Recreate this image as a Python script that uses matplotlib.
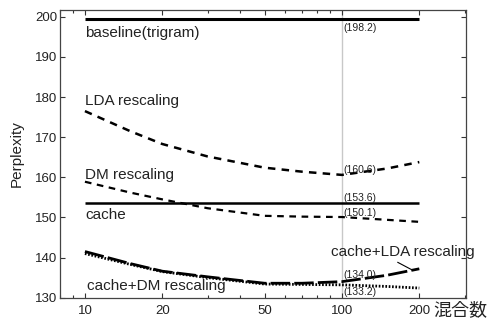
import numpy as np
import matplotlib
matplotlib.use('Agg')
import matplotlib.pyplot as plt

plt.rcParams['font.family'] = ['Liberation Sans', 'Noto Sans CJK JP', 'DejaVu Sans']

# mixture counts (x) and perplexity values
mix = [10, 15, 20, 30, 50, 70, 100, 150, 200]
baseline = [199.4] * len(mix)
cache = [153.6] * len(mix)
lda_rescaling = [176.5, 171.5, 168.3, 165.2, 162.4, 161.4, 160.6, 162.2, 163.8]
dm_rescaling = [158.9, 156.2, 154.5, 152.3, 150.4, 150.2, 150.1, 149.4, 148.9]
cache_lda = [141.5, 138.5, 136.6, 135.2, 133.6, 133.6, 134.0, 135.6, 137.2]
cache_dm = [141.0, 138.3, 136.5, 135.0, 133.4, 133.3, 133.2, 132.8, 132.4]

fig = plt.figure(figsize=(4.88, 3.22), dpi=100)
ax = fig.add_axes([0.123, 0.0755, 0.832, 0.8935])

ax.axvline(100, color='#c8c8c8', lw=1.0, zorder=1)

ax.plot(mix, baseline, color='black', lw=2.2, solid_capstyle='butt')
ax.plot(mix, cache, color='black', lw=1.8, solid_capstyle='butt')
ax.plot(mix, lda_rescaling, color='black', lw=1.8, dashes=(3, 2.5))
ax.plot(mix, dm_rescaling, color='black', lw=1.6, dashes=(3, 2.5))
ax.plot(mix, cache_lda, color='black', lw=2.0, dashes=(7, 1.5))
ax.plot(mix, cache_dm, color='black', lw=2.0, dashes=(0.6, 0.6))

ax.set_xscale('log')
ax.set_xlim(8.0, 304)
ax.set_ylim(130, 201.7)
ax.set_xticks([10, 20, 50, 100, 200])
ax.set_xticklabels(['10', '20', '50', '100', '200'])
ax.set_yticks([130, 140, 150, 160, 170, 180, 190, 200])
ax.tick_params(axis='both', which='both', direction='in', top=True, bottom=True,
               left=True, right=True, labelsize=9.5, labelcolor='#222222',
               color='#333333', width=0.8)
ax.tick_params(axis='both', which='major', length=3.5)
ax.tick_params(axis='x', which='minor', length=2)
ax.tick_params(axis='x', pad=5)
ax.tick_params(axis='y', pad=2)
for s in ax.spines.values():
    s.set_linewidth(0.9)
    s.set_color('#444444')

ax.set_ylabel('Perplexity', fontsize=11, labelpad=8, color='#222222')
fig.text(0.998, 0.035, '混合数', fontsize=13, ha='right', va='center', color='#222222')

lbl = dict(fontsize=11, color='#222222', va='center', ha='left')
ax.text(10, 196.0, 'baseline(trigram)', **lbl)
ax.text(10, 179.0, 'LDA rescaling', **lbl)
ax.text(10, 160.7, 'DM rescaling', **lbl)
ax.text(10, 150.7, 'cache', **lbl)
ax.text(10.2, 132.8, 'cache+DM rescaling', **lbl)
ax.text(90.5, 141.3, 'cache+LDA rescaling', **lbl)
ax.plot([165, 189], [138.8, 136.8], color='black', lw=0.8)

small = dict(fontsize=7.5, color='#222222', va='center', ha='left')
ax.text(101, 197.2, '(198.2)', **small)
ax.text(101, 161.8, '(160.6)', **small)
ax.text(101, 154.9, '(153.6)', **small)
ax.text(101, 151.2, '(150.1)', **small)
ax.text(101, 135.6, '(134.0)', **small)
ax.text(101, 131.3, '(133.2)', **small)

fig.savefig('out.png', dpi=100)
